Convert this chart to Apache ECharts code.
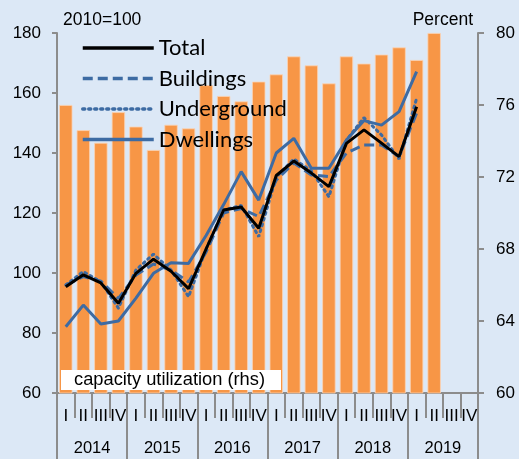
<!DOCTYPE html>
<html>
<head>
<meta charset="utf-8">
<script src="https://cdn.jsdelivr.net/npm/echarts@6/dist/echarts.min.js"></script>
<style>
html, body { margin: 0; padding: 0; background: #dce8f6; }
#main { width: 519px; height: 459px; }
</style>
</head>
<body>
<div id="main"></div>
<script>
// quarters 2014 Q1 .. 2019 Q4
var quarters = ['I','II','III','IV','I','II','III','IV','I','II','III','IV',
                'I','II','III','IV','I','II','III','IV','I','II','III','IV'];
var years = ['2014','2015','2016','2017','2018','2019'];

// capacity utilization, percent (rhs)
var capacity = [76.0, 74.6, 73.9, 75.6, 74.8, 73.5, 74.9, 74.7, 77.1, 76.5, 76.2, 77.3,
                77.7, 78.7, 78.2, 77.2, 78.7, 78.3, 78.8, 79.2, 78.5, 80.0];

// production indices, 2010=100 (lhs)
var total       = [95.4, 99.4, 96.7, 89.9, 99.9, 104.6, 100.6, 94.8, 108.0, 121.0, 122.0, 114.9,
                   132.5, 137.3, 133.3, 128.8, 143.2, 147.7, 143.3, 138.8, 155.4];
var buildings   = [96.0, 98.8, 97.3, 91.5, 99.3, 103.0, 101.0, 97.0, 107.0, 120.0, 121.5, 118.8,
                   131.0, 136.7, 132.7, 132.1, 140.0, 142.7, 142.7, 138.8, 153.3];
var underground = [96.0, 100.5, 97.0, 88.3, 101.0, 106.3, 101.0, 92.1, 108.0, 121.0, 122.5, 112.1,
                   132.0, 138.0, 134.0, 125.4, 144.3, 151.8, 146.0, 138.0, 158.2];
var dwellings   = [82.1, 89.3, 83.0, 84.0, 91.6, 99.9, 103.4, 103.2, 112.5, 122.8, 133.8, 124.3,
                   140.0, 144.9, 134.9, 134.9, 144.3, 150.8, 149.3, 153.8, 167.1];

var blue = '#3d6ba3';
var axisGray = '#8c8c8c';
var axisFont = 'Liberation Sans, Arial, sans-serif';

var chart = echarts.init(document.getElementById('main'));
chart.setOption({
	backgroundColor: '#dce8f6',
	animation: false,
	grid: { left: 57, right: 41, top: 33, bottom: 66 },
	legend: {
		orient: 'vertical',
		left: 81,
		top: 36,
		padding: 0,
		itemWidth: 71,
		itemHeight: 14,
		itemGap: 6.5,
		data: ['Total', 'Buildings', 'Underground', 'Dwellings'],
		lineStyle: { width: 3.5 },
		itemStyle: { opacity: 0 },
		textStyle: { fontFamily: 'Lato, sans-serif', fontSize: 22, lineHeight: 24, color: '#000' }
	},
	xAxis: [{
		type: 'category',
		data: quarters,
		position: 'bottom',
		axisLine: { lineStyle: { color: axisGray, width: 2 } },
		axisTick: { show: true, interval: 0, length: 25, lineStyle: { color: axisGray, width: 2 } },
		axisLabel: { interval: 0, margin: 15, fontSize: 17, color: '#000', fontFamily: axisFont }
	}, {
		type: 'category',
		data: years,
		position: 'bottom',
		axisLine: { show: false },
		axisTick: { show: true, interval: 0, length: 66, lineStyle: { color: axisGray, width: 2 } },
		axisLabel: { interval: 0, margin: 47, fontSize: 16.5, color: '#000', fontFamily: axisFont }
	}],
	yAxis: [{
		type: 'value',
		min: 60, max: 180, interval: 20,
		position: 'left',
		name: '2010=100',
		nameLocation: 'end',
		nameGap: 4,
		nameTextStyle: { align: 'left', padding: [0, 0, 0, 6], fontSize: 17.5, color: '#000', fontFamily: axisFont },
		splitLine: { show: false },
		axisLine: { show: true, lineStyle: { color: axisGray, width: 2 } },
		axisTick: { show: true, length: 5, lineStyle: { color: axisGray, width: 2 } },
		axisLabel: { margin: 16, fontSize: 17, color: '#000', fontFamily: axisFont }
	}, {
		type: 'value',
		min: 60, max: 80, interval: 4,
		position: 'right',
		name: 'Percent',
		nameLocation: 'end',
		nameGap: 4,
		nameTextStyle: { align: 'right', padding: [0, 5, 0, 0], fontSize: 17.5, color: '#000', fontFamily: axisFont },
		splitLine: { show: false },
		axisLine: { show: true, lineStyle: { color: axisGray, width: 2 } },
		axisTick: { show: true, length: 6, lineStyle: { color: axisGray, width: 2 } },
		axisLabel: { margin: 18, fontSize: 17, color: '#000', fontFamily: axisFont }
	}],
	series: [{
		name: 'Capacity utilization',
		type: 'bar',
		yAxisIndex: 1,
		data: capacity,
		barCategoryGap: '24%',
		itemStyle: { color: '#f79646', borderColor: '#fbd3b4', borderWidth: 0.8 },
		z: 1
	}, {
		name: 'Dwellings',
		type: 'line',
		data: dwellings,
		symbol: 'none',
		lineStyle: { color: blue, width: 3 },
		itemStyle: { color: blue },
		z: 3
	}, {
		name: 'Underground',
		type: 'line',
		data: underground,
		symbol: 'none',
		lineStyle: { color: blue, width: 3, type: [2, 4], cap: 'round' },
		itemStyle: { color: blue },
		z: 4
	}, {
		name: 'Buildings',
		type: 'line',
		data: buildings,
		symbol: 'none',
		lineStyle: { color: blue, width: 3, type: [10, 5] },
		itemStyle: { color: blue },
		z: 5
	}, {
		name: 'Total',
		type: 'line',
		data: total,
		symbol: 'none',
		lineStyle: { color: '#000', width: 3 },
		itemStyle: { color: '#000' },
		z: 6
	}],
	graphic: [{
		type: 'group',
		left: 61,
		top: 370,
		z: 100,
		children: [{
			type: 'rect',
			z: 100,
			shape: { x: 0, y: 0, width: 220, height: 20 },
			style: { fill: '#fff' }
		}, {
			type: 'text',
			z: 101,
			x: 13,
			y: 10,
			style: { text: 'capacity utilization (rhs)', fontSize: 18.3, fontFamily: axisFont, fill: '#000', verticalAlign: 'middle' }
		}]
	}]
});
</script>
</body>
</html>
